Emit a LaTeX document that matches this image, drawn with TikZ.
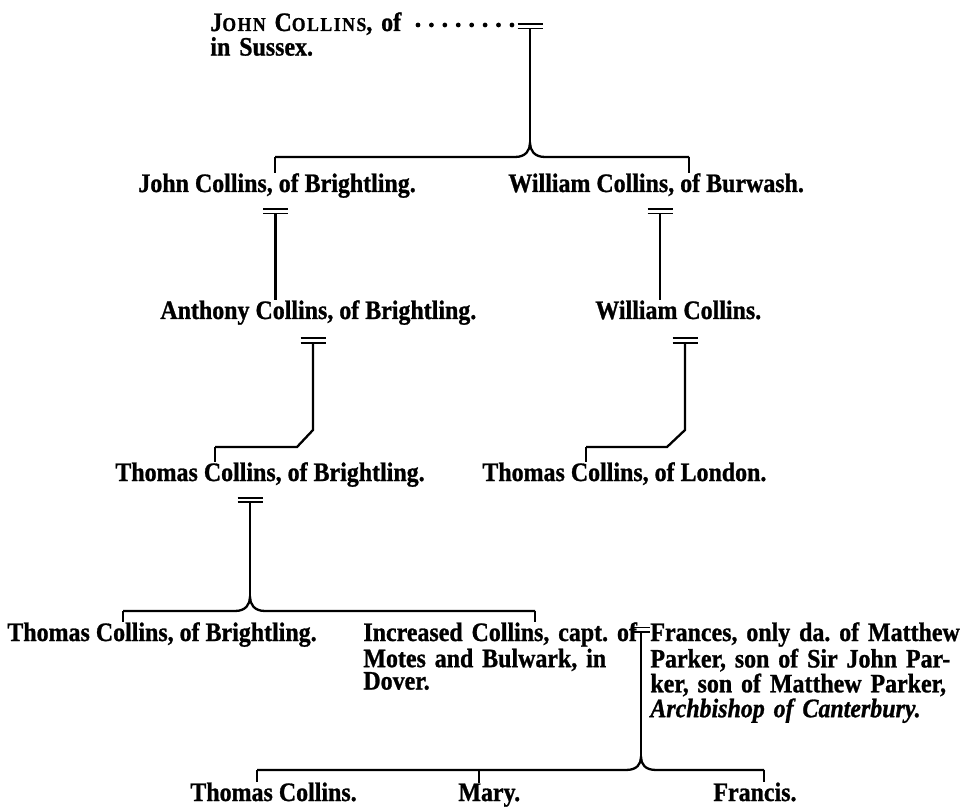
\documentclass[tikz,border=0pt]{standalone}
\usepackage{fontspec}
\setmainfont{Liberation Serif}[FakeStretch=0.9, BoldFeatures={FakeBold=1}, BoldItalicFeatures={FakeBold=1}]
\usetikzlibrary{calc}
\frenchspacing
\newcommand\pfont{\fontsize{13.3}{11.2}\selectfont\bfseries}
\newcommand\fakesc[1]{{\fontsize{9.8}{9}\selectfont\addfontfeatures{LetterSpace=8}#1}}
\begin{document}
\frenchspacing
\begin{tikzpicture}[x=0.5pt,y=-0.5pt,
  person/.style={anchor=base west, inner sep=0pt, font=\pfont},
  stem/.style={line width=1.15pt},
  tick/.style={line width=0.8pt},
  bar/.style={line width=0.9pt},
  marriage/.pic={\draw[bar] (-12.5,-2.25) -- (12.5,-2.25) (-12.5,2.25) -- (12.5,2.25);},
  marriagesmall/.pic={\draw[bar] (-9,-2.25) -- (9,-2.25) (-9,2.25) -- (9,2.25);},
  dotrow/.style={line width=2.4pt, line cap=round, dash pattern=on 0pt off 6.71pt}
]
\useasboundingbox (0,0) rectangle (964,807);

% ---------- persons ----------
\node[person, text width=120pt, align=left] (jc) at (210,31)
  {J\fakesc{OHN} C\fakesc{OLLINS}, of\\in Sussex.};
\node[person] (john) at (138,192) {John Collins, of Brightling.};
\node[person] (william) at (508,192) {William Collins, of Burwash.};
\node[person] (anthony) at (160,319) {Anthony Collins, of Brightling.};
\node[person] (wc) at (595,319) {William Collins.};
\node[person] (thomasB) at (115,481) {Thomas Collins, of Brightling.};
\node[person] (thomasL) at (482,481) {Thomas Collins, of London.};
\node[person] (thomasB2) at (7,641) {Thomas Collins, of Brightling.};
\node[person, text width=134.5pt, align=left] (inc) at (363,641)
  {\makebox[134.5pt][s]{Increased Collins, capt. of}\\
   \makebox[134.5pt][s]{Motes and Bulwark, in}\\
   Dover.};
\node[person, text width=154pt, align=left] (frances) at (650,641)
  {\makebox[154pt][s]{Frances, only da. of Matthew}\\
   \makebox[154pt][s]{Parker, son of Sir John Par-}\\
   \makebox[154pt][s]{ker, son of Matthew Parker,}\\
   \textit{Archbishop of Canterbury.}};
\node[person] (tc) at (190,801) {Thomas Collins.};
\node[person] (mary) at (458,801) {Mary.};
\node[person] (francis) at (713,801) {Francis.};

% ---------- junction points ----------
\coordinate (d0) at (418,25);
\coordinate (d1) at (516,25);
\coordinate (m0) at (530,26.3);
\coordinate (m0b) at (530,28.5);
\coordinate (c1) at (530,143);
\coordinate (b1l) at (275,157);
\coordinate (b1r) at (689,157);
\coordinate (mJ) at (275.5,211.3);
\coordinate (mJb) at (275.5,213.5);
\coordinate (mW) at (660,211.3);
\coordinate (mWb) at (660,213.5);
\coordinate (mA) at (313,340.5);
\coordinate (mAb) at (313,342.7);
\coordinate (eA1) at (313,430);
\coordinate (eA2) at (297,447);
\coordinate (eA3) at (215,447);
\coordinate (mWC) at (685,340.5);
\coordinate (mWCb) at (685,342.7);
\coordinate (eW1) at (685,430);
\coordinate (eW2) at (667,447);
\coordinate (eW3) at (586,447);
\coordinate (mT) at (250,500);
\coordinate (mTb) at (250,502.2);
\coordinate (c2) at (250,597);
\coordinate (b2l) at (123,611);
\coordinate (b2r) at (535,611);
\coordinate (mI) at (641,629.8);
\coordinate (mIb) at (641,632);
\coordinate (c3) at (641,757);
\coordinate (b3l) at (257,770);
\coordinate (b3m) at (479,770);
\coordinate (b3r) at (764,770);

% ---------- generation 1 ----------
\draw[dotrow] (d0) -- (d1);
\pic at (m0) {marriage};
\draw[stem] (m0b) -- (c1);
\draw[stem] (b1l) -- ($(c1)+(-15,14)$) .. controls ($(c1)+(-4,14)$) and ($(c1)+(0,7)$) .. (c1)
  .. controls ($(c1)+(0,7)$) and ($(c1)+(4,14)$) .. ($(c1)+(15,14)$) -- (b1r);
\draw[tick] (b1l) -- (b1l |- john.north);
\draw[tick] (b1r) -- (b1r |- william.north);

% ---------- generation 2 ----------
\pic at (mJ) {marriage};
\draw[stem] (mJb) -- (mJb |- anthony.north);
\pic at (mW) {marriage};
\draw[stem] (mWb) -- (mWb |- wc.north);

% ---------- generation 3 ----------
\pic at (mA) {marriage};
\draw[stem] (mAb) -- (eA1) -- (eA2) -- (eA3);
\draw[tick] (eA3) -- (eA3 |- thomasB.north);
\pic at (mWC) {marriage};
\draw[stem] (mWCb) -- (eW1) -- (eW2) -- (eW3);
\draw[tick] (eW3) -- (eW3 |- thomasL.north);

% ---------- generation 4 ----------
\pic at (mT) {marriage};
\draw[stem] (mTb) -- (c2);
\draw[stem] (b2l) -- ($(c2)+(-15,14)$) .. controls ($(c2)+(-4,14)$) and ($(c2)+(0,7)$) .. (c2)
  .. controls ($(c2)+(0,7)$) and ($(c2)+(4,14)$) .. ($(c2)+(15,14)$) -- (b2r);
\draw[tick] (b2l) -- (b2l |- thomasB2.north);
\draw[tick] (b2r) -- (b2r |- inc.north);

% ---------- generation 5 ----------
\pic at (mI) {marriagesmall};
\draw[stem] (mIb) -- (c3);
\draw[stem] (b3l) -- ($(c3)+(-15,13)$) .. controls ($(c3)+(-4,13)$) and ($(c3)+(0,7)$) .. (c3)
  .. controls ($(c3)+(0,7)$) and ($(c3)+(4,13)$) .. ($(c3)+(15,13)$) -- (b3r);
\draw[tick] (b3l) -- (b3l |- tc.north);
\draw[tick] (b3m) -- (b3m |- mary.north);
\draw[tick] (b3r) -- (b3r |- francis.north);
\end{tikzpicture}
\end{document}
